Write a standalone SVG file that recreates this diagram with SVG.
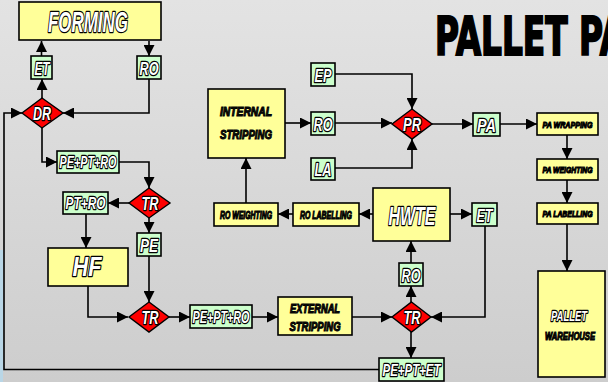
<svg xmlns="http://www.w3.org/2000/svg" width="608" height="382" viewBox="0 0 608 382">
<defs>
<linearGradient id="bg" x1="0" y1="0" x2="0" y2="1">
<stop offset="0" stop-color="#e3e3e3"/>
<stop offset="1" stop-color="#cdcdcd"/>
</linearGradient>
<marker id="ah" viewBox="0 0 10 10" refX="10" refY="5" markerWidth="11" markerHeight="11" markerUnits="userSpaceOnUse" orient="auto">
<path d="M0,0 L10,5 L0,10 z" fill="#000"/>
</marker>
<style>
.y{fill:#ffff99;stroke:#000;stroke-width:1.6}
.g{fill:#ccffcc;stroke:#000;stroke-width:1.6}
.d{fill:#ff0000;stroke:#000;stroke-width:1.4}
.o{font-family:"Liberation Sans Narrow","Liberation Sans",Arial,sans-serif;font-weight:bold;font-style:italic;fill:#fff;stroke:#000;stroke-width:2.6;paint-order:stroke;stroke-linejoin:round;text-anchor:middle}
.k{font-family:"Liberation Sans Narrow","Liberation Sans",Arial,sans-serif;font-weight:bold;font-style:italic;fill:#111;stroke:#000;stroke-width:1;text-anchor:middle}
.c path{fill:none;stroke:#000;stroke-width:1.6;marker-end:url(#ah)}
.t{font-family:"Liberation Sans Narrow","DejaVu Sans Condensed","Liberation Sans",sans-serif;font-weight:bold;fill:#000;stroke:#000;stroke-width:2}
</style>
</defs>
<rect width="608" height="382" fill="url(#bg)"/>
<rect x="0" y="250" width="3" height="132" fill="#b9d6e6"/>

<text class="t" x="435" y="55" font-size="54" textLength="190" lengthAdjust="spacingAndGlyphs">PALLET PA</text>

<g class="c">
<path d="M41.5,56 V41"/>
<path d="M149,41 V56"/>
<path d="M42,98 V79"/>
<path d="M149,79 V113 H63"/>
<path d="M379,369.5 H4 V113 H22"/>
<path d="M42,128 V162 H57"/>
<path d="M119,162 H149 V188"/>
<path d="M129,203 H108"/>
<path d="M149,217 V233"/>
<path d="M86,214 V248"/>
<path d="M88,286 V317 H128"/>
<path d="M149,256 V302"/>
<path d="M169,317 H190"/>
<path d="M252,317 H278"/>
<path d="M352,317 H392"/>
<path d="M485,226 V317 H431"/>
<path d="M411,302 V286"/>
<path d="M411,263 V241"/>
<path d="M411,332 V358"/>
<path d="M450,214 H472"/>
<path d="M373,214 H359"/>
<path d="M293,214 H278"/>
<path d="M246,203 V158"/>
<path d="M285,123 H311"/>
<path d="M335,123 H392"/>
<path d="M335,74 H412 V109"/>
<path d="M335,168 H412 V139"/>
<path d="M432,124 H473"/>
<path d="M500,124 H537"/>
<path d="M567,135 V159"/>
<path d="M567,180 V203"/>
<path d="M567,224 V271"/>
</g>

<g id="forming"><rect class="y" x="19" y="2" width="142" height="38"/><text class="o" x="88" y="32" font-size="29" textLength="80" lengthAdjust="spacingAndGlyphs">FORMING</text></g>
<g id="et1"><rect class="g" x="31" y="56" width="21" height="23"/><text class="o" x="42" y="75" font-size="18" textLength="15" lengthAdjust="spacingAndGlyphs">ET</text></g>
<g id="ro1"><rect class="g" x="137" y="56" width="24" height="23"/><text class="o" x="149" y="75" font-size="18" textLength="19" lengthAdjust="spacingAndGlyphs">RO</text></g>
<g id="dr"><polygon class="d" points="42,98 63,113 42,128 22,113"/><text class="o" x="42" y="120" font-size="18" textLength="18" lengthAdjust="spacingAndGlyphs">DR</text></g>
<g id="pepro1"><rect class="g" x="57" y="151" width="62" height="22"/><text class="o" x="88" y="168" font-size="17" textLength="57" lengthAdjust="spacingAndGlyphs">PE+PT+RO</text></g>
<g id="tr1"><polygon class="d" points="149,188 170,203 149,218 129,203"/><text class="o" x="150" y="210" font-size="18" textLength="17" lengthAdjust="spacingAndGlyphs">TR</text></g>
<g id="ptro"><rect class="g" x="63" y="192" width="45" height="22"/><text class="o" x="85.5" y="209" font-size="17" textLength="40" lengthAdjust="spacingAndGlyphs">PT+RO</text></g>
<g id="pe"><rect class="g" x="137" y="233" width="24" height="23"/><text class="o" x="149" y="252" font-size="18" textLength="18" lengthAdjust="spacingAndGlyphs">PE</text></g>
<g id="hf"><rect class="y" x="48" y="248" width="80" height="38"/><text class="o" x="87" y="276" font-size="27" textLength="29" lengthAdjust="spacingAndGlyphs">HF</text></g>
<g id="tr2"><polygon class="d" points="149,302 169,317 149,332 129,317"/><text class="o" x="150" y="324" font-size="18" textLength="17" lengthAdjust="spacingAndGlyphs">TR</text></g>
<g id="pepro2"><rect class="g" x="190" y="305" width="62" height="23"/><text class="o" x="221" y="323" font-size="17" textLength="57" lengthAdjust="spacingAndGlyphs">PE+PT+RO</text></g>
<g id="ext"><rect class="y" x="278" y="297" width="74" height="38"/><text class="k" x="315" y="313" font-size="12" textLength="50" lengthAdjust="spacingAndGlyphs">EXTERNAL</text><text class="k" x="315" y="331" font-size="12" textLength="51" lengthAdjust="spacingAndGlyphs">STRIPPING</text></g>
<g id="tr3"><polygon class="d" points="411.5,302 431,317 411.5,332 392,317"/><text class="o" x="412" y="324" font-size="18" textLength="17" lengthAdjust="spacingAndGlyphs">TR</text></g>
<g id="peptet"><rect class="g" x="379" y="358" width="65" height="23"/><text class="o" x="411.5" y="376" font-size="17" textLength="58" lengthAdjust="spacingAndGlyphs">PE+PT+ET</text></g>
<g id="ro3"><rect class="g" x="399" y="263" width="24" height="23"/><text class="o" x="411" y="282" font-size="18" textLength="19" lengthAdjust="spacingAndGlyphs">RO</text></g>
<g id="hwte"><rect class="y" x="373" y="188" width="77" height="53"/><text class="o" x="412" y="225" font-size="26" textLength="47" lengthAdjust="spacingAndGlyphs">HWTE</text></g>
<g id="et2"><rect class="g" x="472" y="203" width="25" height="23"/><text class="o" x="484.5" y="222" font-size="18" textLength="16" lengthAdjust="spacingAndGlyphs">ET</text></g>
<g id="rolab"><rect class="y" x="293" y="203" width="66" height="23"/><text class="k" x="326" y="219" font-size="10" textLength="52" lengthAdjust="spacingAndGlyphs">RO LABELLING</text></g>
<g id="roweigh"><rect class="y" x="214" y="203" width="64" height="23"/><text class="k" x="246" y="219" font-size="10" textLength="52" lengthAdjust="spacingAndGlyphs">RO WEIGHTING</text></g>
<g id="int"><rect class="y" x="208" y="89" width="77" height="69"/><text class="k" x="246" y="116" font-size="12" textLength="52" lengthAdjust="spacingAndGlyphs">INTERNAL</text><text class="k" x="246" y="139" font-size="12" textLength="52" lengthAdjust="spacingAndGlyphs">STRIPPING</text></g>
<g id="ro2"><rect class="g" x="311" y="112" width="24" height="23"/><text class="o" x="323" y="131" font-size="18" textLength="19" lengthAdjust="spacingAndGlyphs">RO</text></g>
<g id="ep"><rect class="g" x="311" y="63" width="24" height="23"/><text class="o" x="323" y="82" font-size="18" textLength="17" lengthAdjust="spacingAndGlyphs">EP</text></g>
<g id="la"><rect class="g" x="311" y="158" width="24" height="22"/><text class="o" x="323" y="176" font-size="18" textLength="17" lengthAdjust="spacingAndGlyphs">LA</text></g>
<g id="pr"><polygon class="d" points="412,109 432,124 412,139 392,124"/><text class="o" x="412" y="131" font-size="18" textLength="18" lengthAdjust="spacingAndGlyphs">PR</text></g>
<g id="pa"><rect class="g" x="473" y="113" width="27" height="23"/><text class="o" x="486.5" y="132" font-size="18" textLength="19" lengthAdjust="spacingAndGlyphs">PA</text></g>
<g id="pawrap"><rect class="y" x="537" y="113" width="61" height="22"/><text class="k" x="567.5" y="127.5" font-size="9" textLength="50" lengthAdjust="spacingAndGlyphs">PA WRAPPING</text></g>
<g id="paweigh"><rect class="y" x="537" y="159" width="61" height="21"/><text class="k" x="567.5" y="173" font-size="9" textLength="50" lengthAdjust="spacingAndGlyphs">PA WEIGHTING</text></g>
<g id="palab"><rect class="y" x="537" y="203" width="61" height="21"/><text class="k" x="567.5" y="217" font-size="9" textLength="50" lengthAdjust="spacingAndGlyphs">PA LABELLING</text></g>
<g id="wh"><rect class="y" x="538" y="271" width="67" height="106"/><text class="o" x="569" y="321" font-size="14" stroke-width="1.8" textLength="36" lengthAdjust="spacingAndGlyphs">PALLET</text><text class="k" x="570" y="340" font-size="10" textLength="50" lengthAdjust="spacingAndGlyphs">WAREHOUSE</text></g>
</svg>
